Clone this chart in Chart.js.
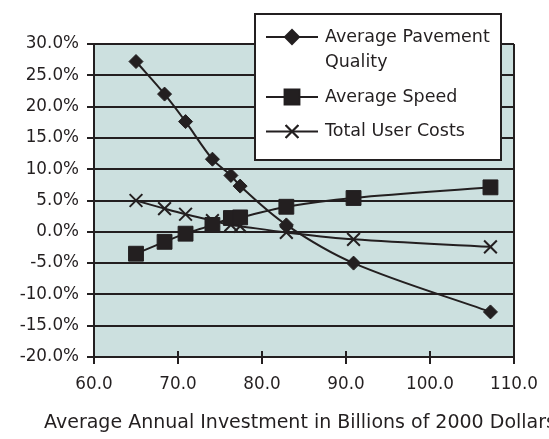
<!DOCTYPE html>
<html>
<head>
<meta charset="utf-8">
<script src="https://cdn.jsdelivr.net/npm/chart.js"></script>
<style>
  html, body { margin: 0; padding: 0; background: #ffffff; }
  #wrap { width: 549px; height: 439px; }
</style>
</head>
<body>
<div id="wrap"><canvas id="investChart" width="549" height="439"></canvas></div>
<script>
// values
const investment = [65.0, 68.4, 70.9, 74.1, 76.3, 77.4, 82.9, 90.9, 107.2];
const pavementQuality = [27.2, 22.0, 17.6, 11.6, 9.0, 7.3, 1.1, -5.0, -12.8];
const averageSpeed = [-3.5, -1.6, -0.3, 1.1, 2.2, 2.3, 4.0, 5.4, 7.1];
const totalUserCosts = [5.0, 3.7, 2.8, 1.8, 1.1, 0.9, -0.1, -1.2, -2.4];
const seriesNames = ['Average Pavement Quality', 'Average Speed', 'Total User Costs'];
const xAxisTitle = 'Average Annual Investment in Billions of 2000 Dollars';

const ink = '#231f20';
const plotFill = '#cce0df';
const family = '"DejaVu Sans", Verdana, sans-serif';
const tickFont = { family: family, size: 16.8 };
const legendFont = { family: family, size: 17.5 };
const titleFont = { family: family, size: 19 };

function pairs(ys) {
    return investment.map(function(x, i) { return { x: x, y: ys[i] }; });
}

const plotBackground = {
    id: 'plotBackground',
    beforeDraw: function(chart) {
        const a = chart.chartArea;
        const ctx = chart.ctx;
        ctx.save();
        ctx.fillStyle = plotFill;
        ctx.fillRect(a.left, a.top, a.right - a.left, a.bottom - a.top);
        ctx.restore();
    }
};

// small tick marks that cross the x axis into the plot
const innerTicks = {
    id: 'innerTicks',
    beforeDatasetsDraw: function(chart) {
        const xs = chart.scales.x;
        const ctx = chart.ctx;
        ctx.save();
        ctx.strokeStyle = ink;
        ctx.lineWidth = 2;
        xs.ticks.forEach(function(t) {
            const px = Math.round(xs.getPixelForValue(t.value));
            ctx.beginPath();
            ctx.moveTo(px, xs.top);
            ctx.lineTo(px, xs.top - 6);
            ctx.stroke();
        });
        ctx.restore();
    }
};

// axis title is wider than the plot in the original, so draw it without a max width
const wideAxisTitle = {
    id: 'wideAxisTitle',
    afterDraw: function(chart) {
        const ctx = chart.ctx;
        ctx.save();
        ctx.fillStyle = ink;
        ctx.font = titleFont.size + 'px ' + titleFont.family;
        ctx.textAlign = 'center';
        ctx.textBaseline = 'middle';
        ctx.fillText(xAxisTitle, 300, 423);
        ctx.restore();
    }
};

function wrapText(ctx, text, maxWidth) {
    const words = text.split(' ');
    const lines = [];
    let cur = '';
    words.forEach(function(w) {
        const test = cur ? cur + ' ' + w : w;
        if (cur && ctx.measureText(test).width > maxWidth) {
            lines.push(cur);
            cur = w;
        } else {
            cur = test;
        }
    });
    if (cur) lines.push(cur);
    return lines;
}

const boxLegend = {
    id: 'boxLegend',
    afterDraw: function(chart) {
        const ctx = chart.ctx;
        const rowY = [37, 97, 131.5];
        ctx.save();
        ctx.fillStyle = '#ffffff';
        ctx.strokeStyle = ink;
        ctx.lineWidth = 2;
        ctx.fillRect(255, 14, 246, 146);
        ctx.strokeRect(255, 14, 246, 146);
        ctx.font = legendFont.size + 'px ' + legendFont.family;
        ctx.textBaseline = 'middle';
        chart.data.datasets.forEach(function(ds, i) {
            const y = rowY[i];
            ctx.strokeStyle = ink;
            ctx.lineWidth = 2;
            ctx.beginPath();
            ctx.moveTo(266, y);
            ctx.lineTo(318, y);
            ctx.stroke();
            Chart.helpers.drawPoint(ctx, {
                pointStyle: ds.pointStyle,
                radius: ds.pointRadius,
                rotation: 0,
                borderWidth: ds.pointBorderWidth
            }, 292, y);
            ctx.fillStyle = ink;
            ctx.strokeStyle = ink;
            ctx.lineWidth = ds.pointBorderWidth;
            if (ds.pointStyle !== 'crossRot') ctx.fill();
            ctx.stroke();
            ctx.fillStyle = ink;
            wrapText(ctx, ds.label, 172).forEach(function(line, k) {
                ctx.fillText(line, 325, y + k * 25);
            });
        });
        ctx.restore();
    }
};

function series(label, ys, style, radius) {
    return {
        label: label,
        data: pairs(ys),
        borderColor: ink,
        backgroundColor: ink,
        borderWidth: 2,
        tension: 0.35,
        pointStyle: style,
        pointRadius: radius,
        pointHoverRadius: radius,
        pointBackgroundColor: ink,
        pointBorderColor: ink,
        pointBorderWidth: style === 'crossRot' ? 2 : 1
    };
}

new Chart(document.getElementById('investChart'), {
    type: 'line',
    data: {
        datasets: [
            series(seriesNames[0], pavementQuality, 'rectRot', 7),
            series(seriesNames[1], averageSpeed, 'rect', 10.5),
            series(seriesNames[2], totalUserCosts, 'crossRot', 9)
        ]
    },
    options: {
        responsive: false,
        animation: false,
        events: [],
        layout: { padding: { left: 0, top: 44, right: 29, bottom: 0 } },
        plugins: {
            legend: { display: false },
            tooltip: { enabled: false },
            title: { display: false }
        },
        scales: {
            x: {
                type: 'linear',
                min: 60,
                max: 110,
                afterFit: function(scale) { scale.height = 82; },
                ticks: {
                    stepSize: 10,
                    color: ink,
                    font: tickFont,
                    padding: 11,
                    maxRotation: 0,
                    callback: function(v) { return Number(v).toFixed(1); }
                },
                grid: {
                    color: function(c) { return c.tick && c.tick.value === 110 ? ink : 'rgba(0,0,0,0)'; },
                    tickColor: ink,
                    lineWidth: 2,
                    tickLength: 7
                },
                border: { color: ink, width: 2 },
                title: { display: false }
            },
            y: {
                min: -20,
                max: 30,
                afterFit: function(scale) { scale.width = 94; },
                ticks: {
                    stepSize: 5,
                    color: ink,
                    font: tickFont,
                    padding: 8,
                    callback: function(v) { return Number(v).toFixed(1) + '%'; }
                },
                grid: {
                    color: ink,
                    tickColor: ink,
                    lineWidth: 2,
                    tickLength: 7
                },
                border: { color: ink, width: 2 }
            }
        }
    },
    plugins: [plotBackground, innerTicks, wideAxisTitle, boxLegend]
});
</script>
</body>
</html>
